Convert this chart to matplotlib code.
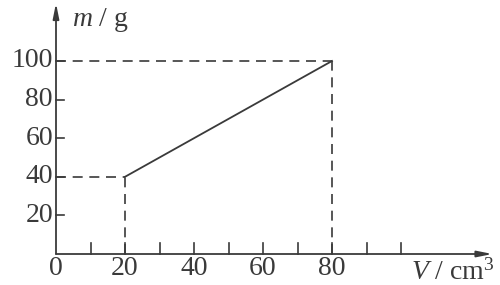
import matplotlib
matplotlib.use("Agg")
import matplotlib.pyplot as plt

# data
line_v = [20, 80]
line_m = [40, 100]
x_ticks = [10, 20, 30, 40, 50, 60, 70, 80, 90, 100]
x_labels = ["0", "20", "40", "60", "80"]
x_label_pos = [0, 20, 40, 60, 80]
y_ticks = [20, 40, 60, 80, 100]
y_labels = ["20", "40", "60", "80", "100"]

plt.rcParams['font.family'] = ['Liberation Serif', 'DejaVu Serif']
plt.rcParams['mathtext.fontset'] = 'custom'
plt.rcParams['mathtext.rm'] = 'Liberation Serif'
plt.rcParams['mathtext.it'] = 'Liberation Serif:italic'
C = '#3a3a3a'
FS = 20

fig = plt.figure(figsize=(5, 2.85), dpi=100)
ax = fig.add_axes([0, 0, 1, 1])
px_x = 3.45
px_y = 1.93
ax.set_xlim(-56 / px_x, (500 - 56) / px_x)
ax.set_ylim((254 - 285) / px_y, 254 / px_y)
for s in ax.spines.values():
    s.set_visible(False)
ax.set_xticks([])
ax.set_yticks([])

# axes with arrows
arrow = dict(arrowstyle='-|>,head_length=0.9,head_width=0.18', color=C, lw=1.3,
             shrinkA=0, shrinkB=0)
ax.annotate('', xy=(126.5, 0), xytext=(0, 0), arrowprops=arrow)
ax.annotate('', xy=(0, 130), xytext=(0, 0), arrowprops=arrow)

# ticks
for t in x_ticks:
    ax.plot([t, t], [0, 5.5], color=C, lw=1.2)
for t in y_ticks:
    ax.plot([0, 2.3], [t, t], color=C, lw=1.2)

for p, l in zip(x_label_pos, x_labels):
    ax.text(p, -7.6, l, ha='center', va='center', fontsize=FS, color=C)
for t, l in zip(y_ticks, y_labels):
    ax.text(-0.9, t, l, ha='right', va='center', fontsize=FS, color=C)

# guide lines
dash = dict(color=C, lw=1.2, dashes=(6, 4))
ax.plot([0, line_v[0]], [line_m[0], line_m[0]], **dash)
ax.plot([line_v[0], line_v[0]], [0, line_m[0]], **dash)
ax.plot([0, line_v[1]], [line_m[1], line_m[1]], **dash)
ax.plot([line_v[1], line_v[1]], [0, line_m[1]], **dash)

ax.plot(line_v, line_m, color=C, lw=1.3)

ax.text(4.6, 121.5, r'$m$ / g', fontsize=FS, color=C, va='center', ha='left')
ax.text(103, -9.5, r'$V$ / cm$^3$', fontsize=FS, color=C, va='center', ha='left')

fig.savefig('out.png', dpi=100)
